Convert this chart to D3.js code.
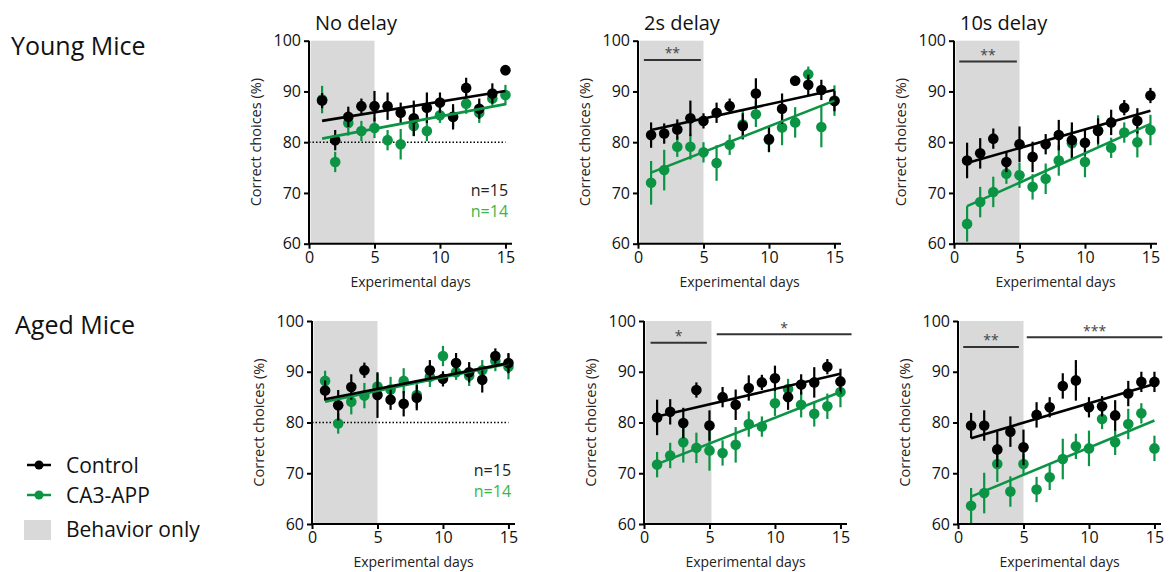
<!DOCTYPE html>
<html><head><meta charset="utf-8">
<script src="https://cdn.jsdelivr.net/npm/d3@7"></script>
<style>
html,body{margin:0;padding:0;background:#fff;}
svg{display:block;font-family:"Open Sans",sans-serif;}
</style></head>
<body><svg id="chart" width="1171" height="572"></svg>
<script>
// ---------- data ----------
const days = [1,2,3,4,5,6,7,8,9,10,11,12,13,14,15];
const xTicks = [0,5,10,15];
const yTicks = [60,70,80,90,100];
const rowLabels = ["Young Mice","Aged Mice"];
const colTitles = ["No delay","2s delay","10s delay"];
const seriesNames = ["Control","CA3-APP"];
const shadeLabel = "Behavior only";

// Young, no delay
const youngNoCtrl    = [88.2,80.4,85.0,87.1,87.1,87.1,85.8,84.7,86.8,87.8,85.0,90.7,86.6,89.6,94.2];
const youngNoCtrlErr = [1.5,2.0,2.0,1.5,3.0,2.7,2.0,3.5,3.0,2.0,2.5,2.0,2.0,2.0,1.0];
const youngNoApp     = [88.4,76.1,83.8,82.2,82.8,80.4,79.6,83.2,82.2,85.3,85.0,87.6,85.8,88.6,89.3];
const youngNoAppErr  = [2.7,2.0,2.5,2.0,2.0,2.0,3.0,2.0,2.0,1.5,2.0,2.0,2.0,1.5,2.0];
// Young, 2s delay
const young2Ctrl     = [81.4,81.7,82.5,84.7,84.2,85.8,87.1,83.2,89.6,80.6,86.6,92.1,91.3,90.3,88.1];
const young2CtrlErr  = [2.5,2.0,2.0,3.5,1.5,2.0,1.5,2.5,3.0,2.5,3.0,1.0,2.0,2.0,2.0];
const young2App      = [72.0,74.5,79.1,79.1,78.0,75.9,79.5,83.5,85.5,80.5,82.9,83.9,93.4,83.0,88.2];
const young2AppErr   = [4.3,4.0,2.0,2.5,2.0,3.5,2.0,3.0,2.5,2.5,3.5,3.0,1.5,4.0,3.0];
// Young, 10s delay
const young10Ctrl    = [76.4,77.8,80.7,76.1,79.6,77.1,79.6,81.4,80.4,79.9,82.2,83.9,86.8,84.2,89.2];
const young10CtrlErr = [3.5,3.0,2.0,2.0,3.5,3.0,2.0,3.0,3.5,2.5,2.5,2.5,1.5,2.5,1.5];
const young10App     = [63.9,68.2,70.2,73.8,73.5,71.2,72.8,76.4,79.8,76.1,82.3,78.9,81.9,80.0,82.4];
const young10AppErr  = [3.5,3.0,3.0,2.0,2.5,2.5,3.0,3.0,3.0,3.0,3.0,2.0,2.0,3.0,3.0];
// Aged, no delay
const agedNoCtrl     = [86.3,83.4,87.0,90.3,85.4,84.5,83.7,84.9,90.3,88.6,91.7,89.9,88.4,93.1,91.7];
const agedNoCtrlErr  = [2.0,3.0,2.5,1.5,4.5,2.0,2.5,2.5,2.0,1.5,2.0,2.0,2.5,1.5,2.0];
const agedNoApp      = [88.2,79.8,84.1,85.3,87.1,86.5,88.2,85.4,89.0,93.1,89.9,89.2,90.3,92.1,91.0];
const agedNoAppErr   = [2.0,2.0,2.5,2.5,2.5,2.5,2.5,2.5,2.0,2.0,1.5,2.0,2.0,2.0,2.5];
// Aged, 2s delay
const aged2Ctrl      = [81.0,82.1,79.9,86.4,79.4,85.0,83.5,86.8,87.9,88.7,85.0,87.5,87.9,91.0,88.1];
const aged2CtrlErr   = [3.5,2.5,3.0,1.5,3.0,2.0,3.0,2.5,1.5,2.5,2.5,2.0,3.0,1.5,2.5];
const aged2App       = [71.7,73.5,76.1,75.0,74.5,74.0,75.6,79.7,79.2,83.8,86.6,83.5,81.7,83.2,86.0];
const aged2AppErr    = [2.5,2.5,4.0,3.0,4.0,2.5,3.5,2.5,2.0,2.5,2.0,2.5,2.5,2.5,3.0];
// Aged, 10s delay
const aged10Ctrl     = [79.4,79.4,74.7,78.2,75.1,81.5,83.0,87.2,88.3,83.0,83.2,81.4,85.7,88.0,88.0];
const aged10CtrlErr  = [2.5,3.0,3.5,3.0,3.5,2.5,2.0,2.5,4.0,2.0,2.0,3.0,2.5,2.0,2.0];
const aged10App      = [63.6,66.1,71.8,66.4,71.8,66.8,69.2,72.8,75.3,74.9,80.7,76.1,79.7,81.8,74.9];
const aged10AppErr   = [3.5,4.0,3.5,3.0,2.0,2.5,2.5,4.0,2.5,3.5,2.0,2.5,3.0,2.0,2.5];

// fitted regression lines (value at day 1, value at day 15)
const fitCtrl = [[84.2,90.1],[82.4,90.3],[75.9,86.2],[84.6,91.7],[81.2,89.6],[76.9,87.6]];
const fitApp  = [[80.7,87.5],[74.0,88.2],[67.4,83.6],[84.1,91.6],[71.8,86.0],[65.4,80.4]];

const nLabels = ["n=15","n=14"];

// significance bars: [x start, x end, y, label]
const sigBars = [
  [],
  [[0.45,4.8,96.2,"**"]],
  [[0.4,4.8,95.9,"**"]],
  [],
  [[0.5,4.8,95.7,"*"],[5.55,15.85,97.4,"*"]],
  [[0.4,4.65,94.9,"**"],[5.25,15.6,96.8,"***"]]
];
const shadeEnd = [5,5,5,5,5.15,5];
const chanceLine = [true,false,false,true,false,false];

const ctrlData = [youngNoCtrl,young2Ctrl,young10Ctrl,agedNoCtrl,aged2Ctrl,aged10Ctrl];
const ctrlErrs = [youngNoCtrlErr,young2CtrlErr,young10CtrlErr,agedNoCtrlErr,aged2CtrlErr,aged10CtrlErr];
const appData  = [youngNoApp,young2App,young10App,agedNoApp,aged2App,aged10App];
const appErrs  = [youngNoAppErr,young2AppErr,young10AppErr,agedNoAppErr,aged2AppErr,aged10AppErr];

// ---------- style / layout ----------
const BLACK = "#000", GREEN = "#0b9444", NGREEN = "#3cb54a", SHADE = "#d9d9d9";
const panelLeft = [[309,638,954],[312,644,958]];
const panelTop = [40.7, 321];
const PW = 203, PH = 203;

const svg = d3.select("#chart");

rowLabels.forEach((t,i)=>{
  svg.append("text").attr("x", i===0?11:15).attr("y", i===0?55:334)
    .attr("font-size",25).attr("fill","#111").text(t);
});

for (let p=0;p<6;p++){
  const row = Math.floor(p/3), col = p%3;
  const g = svg.append("g").attr("transform",`translate(${panelLeft[row][col]},${panelTop[row]})`);
  const x = d3.scaleLinear().domain([0,15.5]).range([0,PW]);
  const y = d3.scaleLinear().domain([60,100]).range([PH,0]);

  // shade
  g.append("rect").attr("x",x(0.12)).attr("y",y(100)).attr("width",x(shadeEnd[p])-x(0.12))
    .attr("height",y(60)-y(100)).attr("fill",SHADE);

  if (row===0){
    svg.append("text").attr("x",panelLeft[row][col]+6).attr("y",30)
      .attr("font-size",20).attr("fill","#111").text(colTitles[col]);
  }

  // chance line
  if (chanceLine[p]){
    g.append("line").attr("x1",x(0)).attr("x2",x(15)).attr("y1",y(80)).attr("y2",y(80))
      .attr("stroke","#000").attr("stroke-width",1.5).attr("stroke-dasharray","1.5,2");
  }

  // sig bars
  sigBars[p].forEach(s=>{
    g.append("line").attr("x1",x(s[0])).attr("x2",x(s[1])).attr("y1",y(s[2])).attr("y2",y(s[2]))
      .attr("stroke","#333").attr("stroke-width",2);
    g.append("text").attr("x",x((s[0]+s[1])/2)).attr("y",y(s[2])-1.5).attr("text-anchor","middle")
      .attr("font-size",14).attr("fill","#444").text(s[3]);
  });

  // series
  const series = [
    {vals:appData[p], errs:appErrs[p], color:GREEN, fit:fitApp[p]},
    {vals:ctrlData[p], errs:ctrlErrs[p], color:BLACK, fit:fitCtrl[p]}
  ];
  series.forEach(s=>{
    g.selectAll(null).data(days).enter().append("line")
      .attr("x1",d=>x(d)).attr("x2",d=>x(d))
      .attr("y1",(d,i)=>y(s.vals[i]-s.errs[i])).attr("y2",(d,i)=>y(s.vals[i]+s.errs[i]))
      .attr("stroke",s.color).attr("stroke-width",2.2);
    g.selectAll(null).data(days).enter().append("circle")
      .attr("cx",d=>x(d)).attr("cy",(d,i)=>y(s.vals[i])).attr("r",5.3).attr("fill",s.color);
  });
  series.forEach(s=>{
    g.append("line").attr("x1",x(days[0])).attr("x2",x(days[days.length-1]))
      .attr("y1",y(s.fit[0])).attr("y2",y(s.fit[1]))
      .attr("stroke",s.color).attr("stroke-width",2.6);
  });

  // n labels
  if (chanceLine[p]){
    g.append("text").attr("x",x(15.2)).attr("y",y(69.4)).attr("text-anchor","end")
      .attr("font-size",16).attr("fill","#222").text(nLabels[0]);
    g.append("text").attr("x",x(15.2)).attr("y",y(65.3)).attr("text-anchor","end")
      .attr("font-size",16).attr("fill",NGREEN).text(nLabels[1]);
  }

  // axes
  const ya = g.append("g").call(d3.axisLeft(y).tickValues(yTicks).tickSize(5).tickPadding(3));
  const xa = g.append("g").attr("transform",`translate(0,${PH})`)
    .call(d3.axisBottom(x).tickValues(xTicks).tickSize(5).tickPadding(3));
  [ya,xa].forEach(a=>{
    a.select(".domain").attr("stroke","#000").attr("stroke-width",2);
    a.selectAll(".tick line").attr("stroke","#000").attr("stroke-width",2);
    a.selectAll(".tick text").attr("font-size",16).attr("fill","#111")
      .attr("font-family","'Open Sans',sans-serif");
  });
  xa.select(".domain").attr("d",`M0,0H${PW}`);
  ya.select(".domain").attr("d",`M0,0V${PH}`);

  g.append("text").attr("transform",`translate(${-48},${PH/2}) rotate(-90)`)
    .attr("text-anchor","middle").attr("font-size",14.5).attr("fill","#222").text("Correct choices (%)");
  g.append("text").attr("x",PW/2).attr("y",PH+43).attr("text-anchor","middle")
    .attr("font-size",14).attr("fill","#222").text("Experimental days");
}

// legend
const leg = svg.append("g");
[[BLACK,465],[GREEN,495]].forEach((c,i)=>{
  leg.append("line").attr("x1",27).attr("x2",51).attr("y1",c[1]).attr("y2",c[1])
    .attr("stroke",c[0]).attr("stroke-width",2.5);
  leg.append("circle").attr("cx",39).attr("cy",c[1]).attr("r",4.5).attr("fill",c[0]);
  leg.append("text").attr("x",66).attr("y",c[1]+8).attr("font-size",21).attr("fill","#111").text(seriesNames[i]);
});
leg.append("rect").attr("x",24).attr("y",520).attr("width",27).attr("height",20).attr("fill",SHADE);
leg.append("text").attr("x",66).attr("y",537).attr("font-size",21).attr("fill","#111").text(shadeLabel);
</script></body></html>
